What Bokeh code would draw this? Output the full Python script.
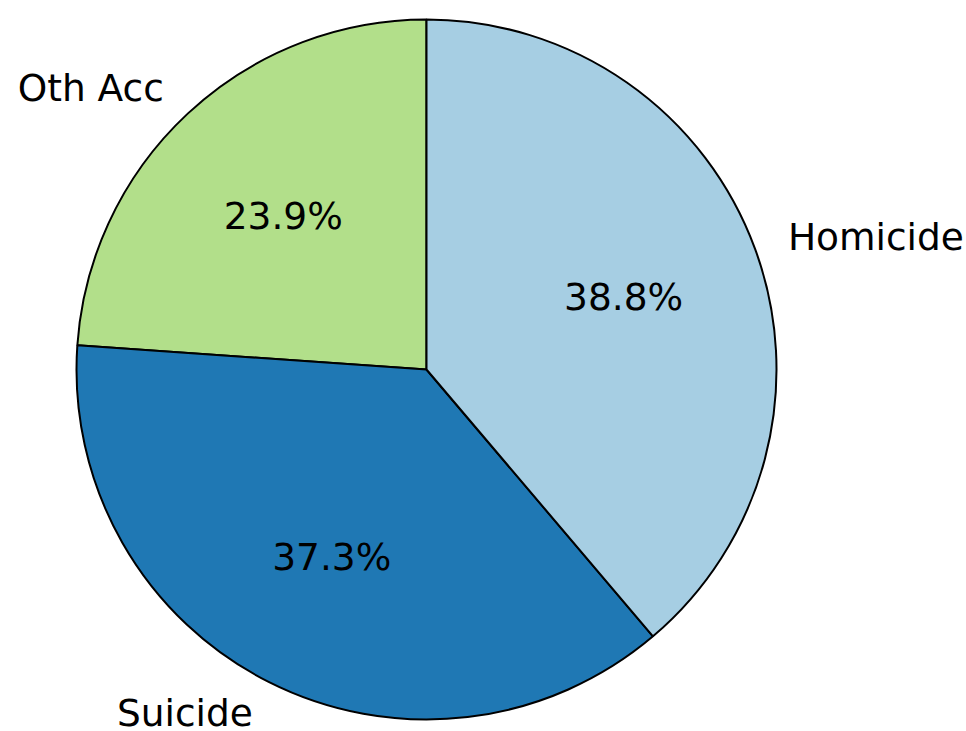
import numpy as np
from bokeh.plotting import figure
from bokeh.models import ColumnDataSource, Range1d
from bokeh.embed import file_html
from bokeh.resources import INLINE
from bokeh.core.properties import value

categories = ["Oth Acc", "Suicide", "Homicide"]
shares = [23.9, 37.3, 38.8]
colors = ["#b2df8a", "#1f78b4", "#a6cee3"]

W, H = 966, 731
R_PX = 350.0
CX, CY = 426.0, 369.0  # centre in plot pixels (from top-left)

p = figure(width=W, height=H, output_backend="svg", toolbar_location=None,
           x_range=Range1d(-CX / R_PX, (W - CX) / R_PX),
           y_range=Range1d(-(H - CY) / R_PX, CY / R_PX),
           min_border=0)
p.axis.visible = False
p.grid.visible = False
p.outline_line_color = None

vals = np.array(shares, dtype=float)
frac = vals / vals.sum()
start_deg = 90.0
ends = start_deg + 360.0 * np.cumsum(frac)
starts = np.concatenate([[start_deg], ends[:-1]])
start_rad = np.deg2rad(starts)
end_rad = np.deg2rad(ends)
mid = (start_rad + end_rad) / 2

src = ColumnDataSource(dict(start=start_rad, end=end_rad, color=colors))
p.wedge(x=0, y=0, radius=1.0, start_angle="start", end_angle="end",
        direction="anticlock", fill_color="color", line_color="black",
        line_width=2, source=src)

# category labels at 1.1 r
lx = 1.1 * np.cos(mid)
ly = 1.1 * np.sin(mid)
aligns = ["left" if x > 0 else "right" for x in lx]
lab = ColumnDataSource(dict(x=lx, y=ly, t=categories, a=aligns))
p.text(x="x", y="y", text="t", text_align="a", text_baseline="middle",
       text_font=value("DejaVu Sans"), text_font_size="37.5px",
       text_color="black", source=lab)

# percentage labels at 0.6 r
px = 0.6 * np.cos(mid)
py = 0.6 * np.sin(mid)
pct = ColumnDataSource(dict(x=px, y=py, t=[f"{v:.1f}%" for v in frac * 100]))
p.text(x="x", y="y", text="t", text_align="center", text_baseline="middle",
       text_font=value("DejaVu Sans"), text_font_size="37.5px",
       text_color="black", source=pct)

open("out.html", "w").write(file_html(p, INLINE))
